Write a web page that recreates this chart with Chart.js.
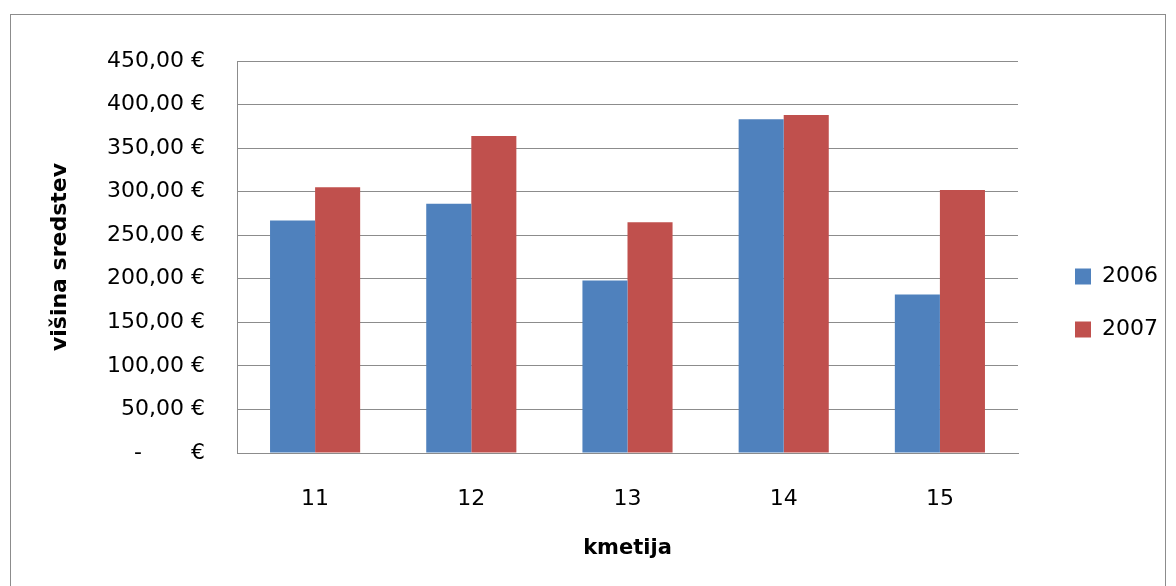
<!DOCTYPE html>
<html>
<head>
<meta charset="utf-8">
<script src="https://cdn.jsdelivr.net/npm/chart.js@4.4.0/dist/chart.umd.min.js"></script>
<style>
  body { margin: 0; background: #fff; overflow: hidden; }
  #frame { position: absolute; left: 10px; top: 14px; width: 1154px; height: 600px; border: 1px solid #8c8c8c; }
  #wrap { position: absolute; left: 0; top: 0; width: 1176px; height: 586px; }
</style>
</head>
<body>
<div id="frame"></div>
<div id="wrap"><canvas id="myChart" width="1176" height="586"></canvas></div>
<script>
var categories = ['11', '12', '13', '14', '15'];
var values2006 = [267, 286, 198, 383, 182];
var values2007 = [305, 364, 265, 388, 302];
var seriesNames = ['2006', '2007'];

var fontName = "'DejaVu Sans', sans-serif";

// keep legend narrow and push its items right like the original
var legendFix = {
    id: 'legendFix',
    afterInit: function (chart) {
        var lg = chart.legend;
        var fit = lg.fit;
        lg.fit = function () {
            fit.call(this);
            this.width = 158;
        };
    },
    afterLayout: function (chart) {
        chart.legend.left += 26;
        chart.legend.right += 26;
        chart.legend.top -= 8;
        chart.legend.bottom -= 8;
    }
};

function euro(v) {
    if (v === 0) return '-       €';
    return v.toFixed(2).replace('.', ',') + ' €';
}

new Chart(document.getElementById('myChart'), {
    type: 'bar',
    data: {
        labels: categories,
        datasets: [{
            label: seriesNames[0],
            data: values2006,
            backgroundColor: '#4f81bd'
        }, {
            label: seriesNames[1],
            data: values2007,
            backgroundColor: '#c0504d'
        }]
    },
    plugins: [legendFix],
    options: {
        responsive: false,
        animation: false,
        layout: { padding: { left: 47, top: 61, right: 0, bottom: 25 } },
        categoryPercentage: 0.577,
        barPercentage: 1,
        plugins: {
            legend: {
                position: 'right',
                labels: {
                    boxWidth: 16,
                    boxHeight: 16,
                    padding: 31,
                    color: '#000',
                    font: { family: fontName, size: 22 }
                }
            },
            tooltip: { enabled: false }
        },
        scales: {
            x: {
                grid: { display: false, drawTicks: false },
                border: { color: '#8c8c8c' },
                ticks: { color: '#000', padding: 33, font: { family: fontName, size: 22 } },
                title: {
                    display: true,
                    text: 'kmetija',
                    color: '#000',
                    padding: { top: 0, bottom: 0 },
                    font: { family: fontName, size: 21, weight: 'bold' }
                },
                afterFit: function (scale) { scale.height = 586 - 453 - 25; }
            },
            y: {
                min: 0,
                max: 450,
                grid: { color: '#8c8c8c', drawTicks: false },
                border: { color: '#8c8c8c' },
                ticks: {
                    stepSize: 50,
                    color: '#000',
                    padding: 32,
                    font: { family: fontName, size: 22 },
                    callback: function (v) { return euro(v); }
                },
                title: {
                    display: true,
                    text: 'višina sredstev',
                    color: '#000',
                    padding: 0,
                    font: { family: fontName, size: 22, weight: 'bold' }
                },
                afterFit: function (scale) { scale.width = 237 - 47; }
            }
        }
    }
});
</script>
</body>
</html>
